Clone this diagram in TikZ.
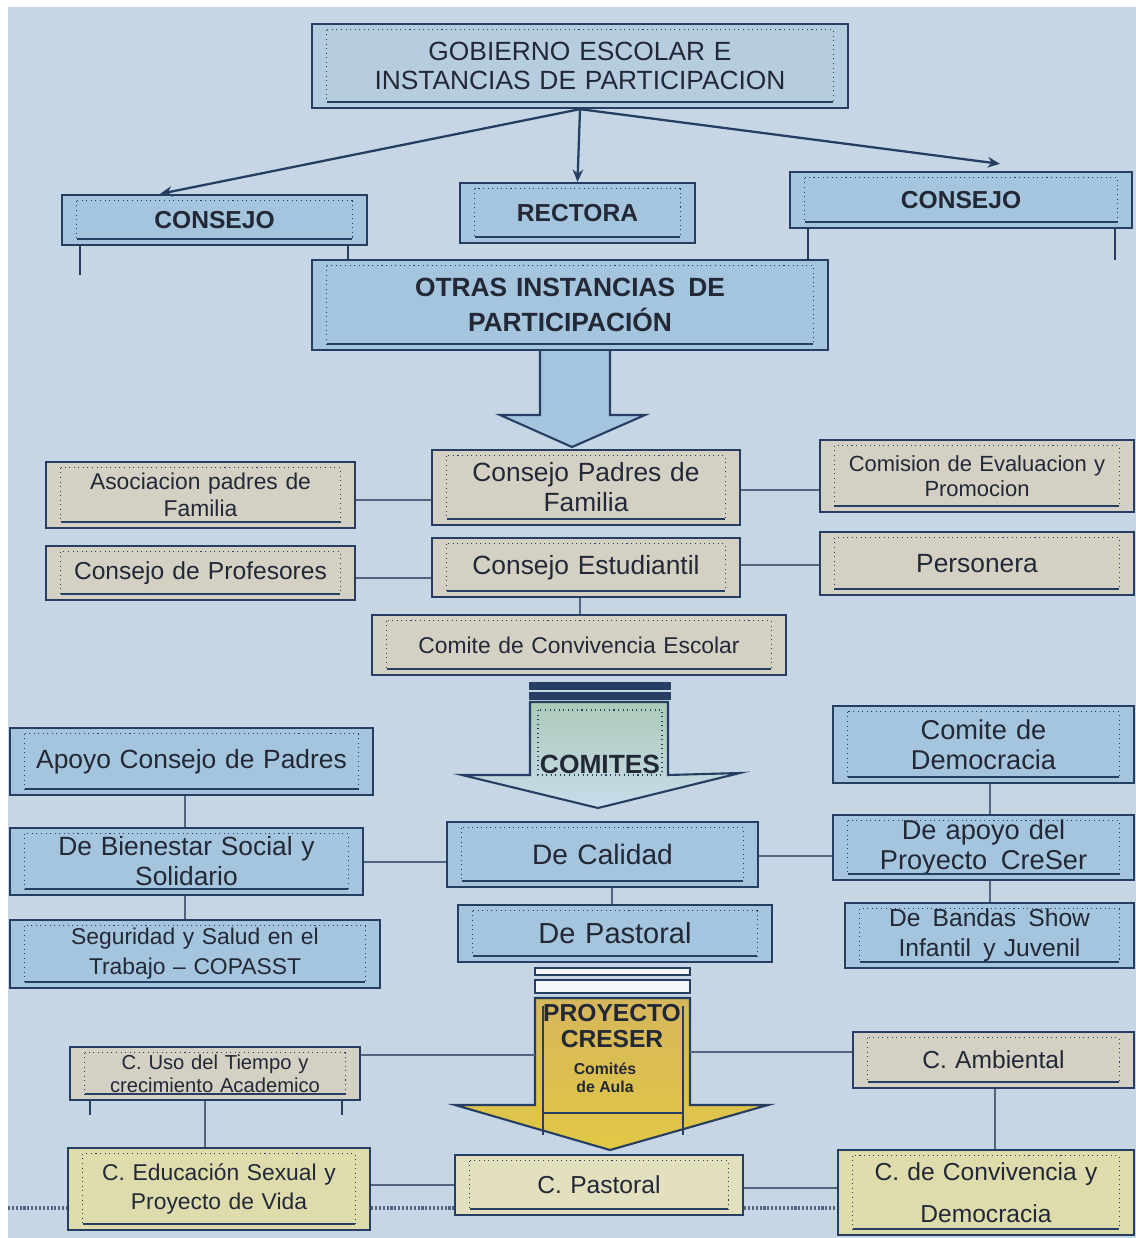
\documentclass[tikz,border=0pt]{standalone}
\usepackage{fontspec}
\setmainfont{Liberation Sans}
\usetikzlibrary{arrows.meta}
\definecolor{bg}{RGB}{198,214,228}
\definecolor{ln}{RGB}{38,62,98}
\definecolor{txt}{RGB}{34,40,54}
\definecolor{tfill}{RGB}{182,205,224}
\definecolor{bfill}{RGB}{165,196,221}
\definecolor{beige}{RGB}{212,208,196}
\definecolor{yel}{RGB}{222,220,172}
\definecolor{lyel}{RGB}{226,224,190}
\definecolor{grn}{RGB}{172,202,184}
\definecolor{gold}{RGB}{214,182,92}
\tikzset{
  obox/.style={draw=ln, line width=1.3pt, inner sep=0pt, align=center, text=txt},
  ibox/.style={draw=ln, line width=0.6pt, dotted},
  ibot/.style={draw=ln, line width=1.1pt},
  conn/.style={draw=ln!80, line width=1.2pt},
  arr/.style={draw=ln, line width=1.3pt, -{Stealth[length=7pt,width=6pt]}},
  blk/.style={draw=ln, line width=1.2pt}
}
\newcommand\cbox[8]{%
  \pgfmathsetmacro\mw{(#4-#2)*0.02}%
  \pgfmathsetmacro\mh{(#5-#3)*0.02}%
  \pgfmathsetmacro\tw{(#4-#2-36)*0.02}%
  \node[obox, fill=#6, font=#7, minimum width=\mw cm, minimum height=\mh cm, text width=\tw cm]
    (#1) at ({(#2+#4)/2},{(#3+#5)/2}) {#8};
  \draw[ibox] ([xshift=0.32cm,yshift=-0.14cm]#1.north west) rectangle ([xshift=-0.32cm,yshift=0.14cm]#1.south east);
  \draw[ibot] ([xshift=0.32cm,yshift=0.14cm]#1.south west) -- ([xshift=-0.32cm,yshift=0.14cm]#1.south east);
}
\begin{document}
\begin{tikzpicture}[x=0.02cm,y=-0.02cm]
\useasboundingbox (0,0) rectangle (1136,1238);
\fill[white] (0,0) rectangle (1136,1238);
\fill[bg] (8,7) rectangle (1136,1238);

% ---------- top level ----------
\cbox{title}{312}{24}{848}{108}{tfill}{\fontsize{15}{16.5}\selectfont}{GOBIERNO ESCOLAR E\\INSTANCIAS DE PARTICIPACION\\[4pt]}
\cbox{conL}{62}{195}{367}{245}{bfill}{\bfseries\fontsize{14}{16}\selectfont}{CONSEJO}
\cbox{rect}{460}{183}{695}{243}{bfill}{\bfseries\fontsize{14}{16}\selectfont}{RECTORA\\[4pt]}
\cbox{conR}{790}{172}{1132}{228}{bfill}{\bfseries\fontsize{14}{16}\selectfont}{CONSEJO\\[6pt]}
\draw[ibox, solid, line width=0.7pt] (80,245) -- (80,275) (348,245) -- (348,275);
\draw[ibox, solid, line width=0.7pt] (808,228) -- (808,260) (1115,228) -- (1115,260);

\draw[arr] (title.south) -- (conL.north -| 160,0);
\draw[arr] (title.south) -- (rect.north);
\draw[arr] (title.south) -- ([yshift=0.14cm]conR.north -| 1000,0);

% big blue arrow
\draw[blk, fill=bfill] (540,340) -- (610,340) -- (610,415) -- (645,415) -- (572,447) -- (500,415) -- (540,415) -- cycle;
\cbox{otras}{312}{260}{828}{350}{bfill}{\bfseries\fontsize{15}{20}\selectfont}{OTRAS INSTANCIAS\enspace DE\\PARTICIPACIÓN}

% ---------- otras instancias ----------
\cbox{aso}{46}{462}{355}{528}{beige}{\fontsize{13}{15}\selectfont}{Asociacion padres de\\Familia\\[4pt]}
\cbox{cpf}{432}{450}{740}{525}{beige}{\fontsize{15}{17}\selectfont}{Consejo Padres de\\Familia\\[4pt]}
\cbox{cep}{820}{440}{1134}{512}{beige}{\fontsize{12.5}{14}\selectfont}{Comision de Evaluacion y\\Promocion\\[10pt]}
\cbox{cpr}{46}{546}{355}{600}{beige}{\fontsize{14}{16}\selectfont}{Consejo de Profesores\\[6pt]}
\cbox{ces}{432}{538}{740}{597}{beige}{\fontsize{15}{18}\selectfont}{Consejo Estudiantil\\[8pt]}
\cbox{per}{820}{532}{1134}{595}{beige}{\fontsize{15}{18}\selectfont}{Personera}
\cbox{cce}{372}{615}{786}{675}{beige}{\fontsize{13}{16}\selectfont}{Comite de Convivencia Escolar\\[4pt]}

\draw[conn] (aso.east |- 0,500) -- (cpf.west |- 0,500);
\draw[conn] (cpf.east |- 0,490) -- (cep.west |- 0,490);
\draw[conn] (cpr.east |- 0,578) -- (ces.west |- 0,578);
\draw[conn] (ces.east |- 0,565) -- (per.west |- 0,565);
\draw[conn] (ces.south -| 580,0) -- (cce.north -| 580,0);

% ---------- comites arrow ----------
\draw[draw=ln, line width=0.8pt, fill=ln] (530,683) rectangle (670,689);
\draw[draw=ln, line width=0.8pt, fill=ln] (530,693) rectangle (670,699);
\shade[top color=grn, bottom color=bfill!60!white] (530,702) -- (668,702) -- (668,775) -- (740,773) -- (598,808) -- (462,775) -- (530,775) -- cycle;
\draw[blk] (530,702) -- (668,702) -- (668,775) -- (740,773) -- (598,808) -- (462,775) -- (530,775) -- cycle;
\draw[ibox] (538,710) rectangle (662,775);
\node[font=\bfseries\fontsize{15}{17}\selectfont, text=txt] (comites) at (600,764) {COMITES};

% ---------- comites boxes ----------
\cbox{ap}{10}{728}{373}{795}{bfill}{\fontsize{15}{18}\selectfont}{Apoyo Consejo de Padres\\[16pt]}
\cbox{bie}{10}{828}{363}{895}{bfill}{\fontsize{15}{17}\selectfont}{De Bienestar Social y\\Solidario\\[4pt]}
\cbox{seg}{10}{920}{380}{988}{bfill}{\fontsize{13}{17}\selectfont}{Seguridad y Salud en el\\Trabajo – COPASST\\[4pt]}
\cbox{cal}{447}{822}{758}{887}{bfill}{\fontsize{16}{18}\selectfont}{De Calidad}
\cbox{pas}{458}{905}{772}{962}{bfill}{\fontsize{16.5}{18}\selectfont}{De Pastoral\\[8pt]}
\cbox{dem}{833}{706}{1134}{783}{bfill}{\fontsize{15.5}{17}\selectfont}{Comite de\\Democracia\\[6pt]}
\cbox{cre}{833}{815}{1134}{880}{bfill}{\fontsize{15.5}{17}\selectfont}{De apoyo del\\Proyecto\enspace CreSer\\[3pt]}
\cbox{ban}{845}{903}{1134}{968}{bfill}{\fontsize{14}{17}\selectfont}{De\enspace Bandas\enspace Show\\Infantil\enspace y Juvenil\\[4pt]}

\draw[conn] (ap.south -| 185,0) -- (bie.north -| 185,0);
\draw[conn] (bie.south -| 185,0) -- (seg.north -| 185,0);
\draw[conn] (bie.east |- 0,862) -- (cal.west |- 0,862);
\draw[conn] (cal.east |- 0,856) -- (cre.west |- 0,856);
\draw[conn] (cal.south -| 612,0) -- (pas.north -| 612,0);
\draw[conn] (dem.south -| 990,0) -- (cre.north -| 990,0);
\draw[conn] (cre.south -| 990,0) -- (ban.north -| 990,0);

% ---------- proyecto creser arrow ----------
\draw[blk, fill=white!80!bg] (535,968) rectangle (690,975);
\draw[blk, fill=white!80!bg] (535,980) rectangle (690,993);
\shade[top color=gold, bottom color=gold!75!yellow] (535,998) -- (690,998) -- (690,1105) -- (768,1105) -- (610,1150) -- (455,1105) -- (535,1105) -- cycle;
\draw[blk] (535,998) -- (690,998) -- (690,1105) -- (768,1105) -- (610,1150) -- (455,1105) -- (535,1105) -- cycle;
\draw[ibox, solid, line width=0.7pt] (543,1006) -- (543,1135) (683,1006) -- (683,1135);
\draw[ibot] (543,1113) -- (683,1113);
\node[font=\bfseries\fontsize{14}{15}\selectfont, text=txt, align=center] (pc) at (612,1026) {PROYECTO\\CRESER};
\node[font=\bfseries\fontsize{9}{10}\selectfont, text=txt, align=center] (aula) at (605,1078) {Comités\\de Aula};
\coordinate (a3l) at (535,1055);
\coordinate (a3r) at (690,1052);

% ---------- bottom boxes ----------
\cbox{uso}{70}{1047}{360}{1100}{beige}{\fontsize{11.5}{13}\selectfont}{C. Uso del Tiempo y\\crecimiento Academico\\[4pt]}
\cbox{amb}{853}{1032}{1134}{1088}{beige}{\fontsize{14}{16}\selectfont}{C. Ambiental\\[16pt]}
\cbox{edu}{68}{1148}{370}{1230}{yel}{\fontsize{13}{17}\selectfont}{C. Educación Sexual y\\Proyecto de Vida\\[10pt]}
\cbox{cpa}{455}{1155}{743}{1215}{lyel}{\fontsize{14}{16}\selectfont}{C. Pastoral\\[12pt]}
\cbox{cdc}{838}{1150}{1134}{1235}{yel}{\fontsize{14}{24}\selectfont}{C. de Convivencia y\\Democracia}
\draw[ibox, solid, line width=0.7pt] (90,1100) -- (90,1115) (342,1100) -- (342,1115);

\draw[conn] (uso.east |- a3l) -- (a3l);
\draw[conn] (a3r) -- (amb.west |- a3r);
\draw[conn] (uso.south -| 205,0) -- (edu.north -| 205,0);
\draw[conn] (amb.south -| 995,0) -- (cdc.north -| 995,0);
\draw[conn] (edu.east |- 0,1185) -- (cpa.west |- 0,1185);
\draw[conn] (cpa.east |- 0,1188) -- (cdc.west |- 0,1188);
\coordinate (lend) at (8,1208);
\draw[conn, densely dotted, line width=2pt] (lend) -- (edu.west |- lend);
\draw[conn, densely dotted, line width=2pt] (edu.east |- lend) -- (cpa.west |- lend);
\draw[conn, densely dotted, line width=2pt] (cpa.east |- lend) -- (cdc.west |- lend);
\end{tikzpicture}
\end{document}
